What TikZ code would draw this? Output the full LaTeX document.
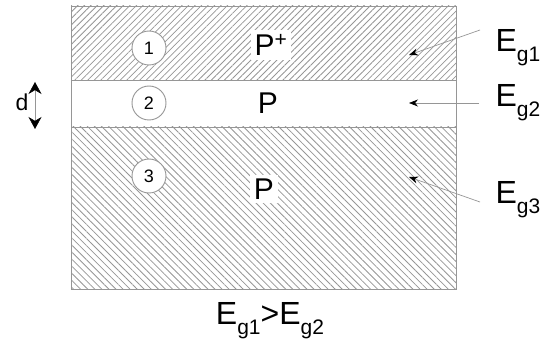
\documentclass[tikz,border=0pt]{standalone}
\usepackage{fontspec}
\setmainfont{Liberation Sans}
\usetikzlibrary{patterns.meta,arrows.meta}
\definecolor{ln}{RGB}{150,150,150}
\newcommand{\subg}[1]{\raisebox{-0.32em}{\fontsize{21}{21}\selectfont #1}}
\tikzset{
  layer/.style={draw=ln, line width=0.9pt, inner sep=0pt, minimum width=385pt},
  numcirc/.style={circle, draw=ln, fill=white, line width=0.9pt, minimum size=34pt, inner sep=0pt, font=\fontsize{18}{18}\selectfont},
  plabel/.style={fill=white, inner sep=4pt, font=\fontsize{30}{30}\selectfont},
  eglabel/.style={font=\fontsize{32}{32}\selectfont, inner sep=0pt},
  egarrow/.style={draw=ln, line width=0.7pt, -{Stealth[length=9pt,width=7pt,black]}},
}
\begin{document}
\begin{tikzpicture}[x=1pt,y=-1pt]
\useasboundingbox (0,0) rectangle (542,350);
% layers
\node[layer, minimum height=74pt, pattern={Lines[angle=45,distance=4.6pt,line width=0.8pt]}, pattern color=ln] (L1) at (263.5,43) {};
\node[layer, minimum height=47pt, fill=white] (L2) at (263.5,103.5) {};
\node[layer, minimum height=162pt, pattern={Lines[angle=-45,distance=5pt,line width=0.8pt]}, pattern color=ln] (L3) at (263.5,208) {};
% circles
\node[numcirc] (c1) at (149,48) {1};
\node[numcirc] (c2) at (149,103) {2};
\node[numcirc] (c3) at (149,176) {3};
% P labels
\node[plabel] (p1) at (271,45) {P\textsuperscript{+}};
\node[plabel, fill=none] (p2) at (268,103) {P};
\node[plabel] (p3) at (264,189) {P};
% d arrow
\node[font=\fontsize{23}{23}\selectfont, inner sep=0pt] (d) at (22,102) {d};
\coordinate (dt) at (35,82);
\coordinate (db) at (35,129);
\draw[draw=ln, line width=0.6pt, {Stealth[length=12pt,width=13pt,black]}-{Stealth[length=12pt,width=13pt,black]}] (dt) -- (db);
% Eg labels
\node[eglabel] (e1) at (518,48) {E\subg{g1}};
\node[eglabel] (e2) at (518,103) {E\subg{g2}};
\node[eglabel] (e3) at (518,200) {E\subg{g3}};
\coordinate (a1s) at (480,30);
\coordinate (a1e) at (409,55);
\coordinate (a2s) at (479,103);
\coordinate (a2e) at (409,103);
\coordinate (a3s) at (480,202);
\coordinate (a3e) at (409,177);
\draw[egarrow] (a1s) -- (a1e);
\draw[egarrow] (a2s) -- (a2e);
\draw[egarrow] (a3s) -- (a3e);
% bottom
\node[eglabel] (rel) at (270,321) {E\subg{g1}>E\subg{g2}};
\end{tikzpicture}
\end{document}
